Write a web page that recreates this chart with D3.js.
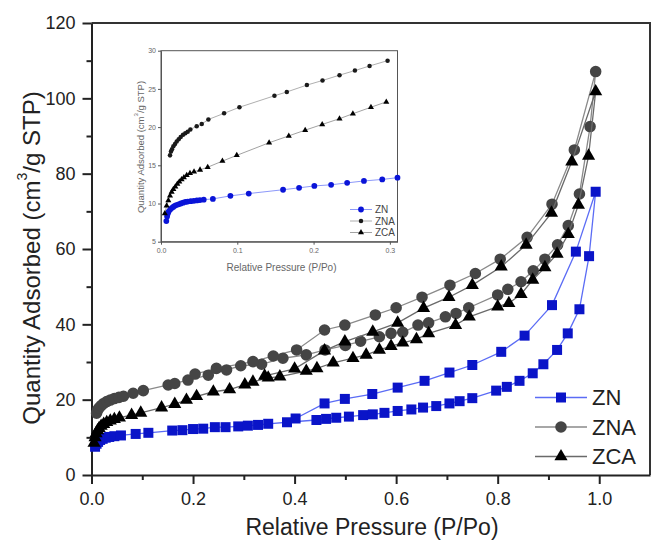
<!DOCTYPE html>
<html>
<head>
<meta charset="utf-8">
<script src="https://cdn.jsdelivr.net/npm/d3@7"></script>
<style>
  body { margin: 0; background: #fff; }
  svg { display: block; font-family: "Liberation Sans", Arial, sans-serif; }
</style>
</head>
<body>
<div id="viz"></div>
<script>
// ---- data: [P/Po, quantity adsorbed] ----
// main chart, adsorption branch then desorption branch
const znAds = [[0.007,7.5],[0.010,8.3],[0.013,8.8],[0.017,9.3],[0.022,9.6],[0.028,9.9],[0.035,10.1],[0.045,10.3],[0.058,10.5],
  [0.087,10.9],[0.112,11.2],[0.159,11.8],[0.179,11.9],[0.200,12.2],[0.220,12.3],[0.243,12.7],[0.264,12.7],[0.289,12.9],
  [0.308,13.1],[0.328,13.3],[0.348,13.6],[0.385,14.0],[0.443,14.6],[0.462,14.9],[0.482,15.2],[0.507,15.5],[0.535,15.9],
  [0.554,16.1],[0.577,16.5],[0.603,17.0],[0.630,17.4],[0.653,17.9],[0.679,18.3],[0.705,19.0],[0.725,19.6],[0.750,20.4],
  [0.797,22.4],[0.818,23.4],[0.843,25.0],[0.869,27.0],[0.890,29.4],[0.917,33.2],[0.938,37.6],[0.961,44.0],[0.980,58.1],[0.993,75.2]];
const znDes = [[0.954,59.3],[0.907,45.1],[0.853,37.0],[0.807,32.7],[0.750,29.2],[0.705,27.2],[0.656,25.0],[0.603,23.2],
  [0.553,21.5],[0.499,20.2],[0.459,19.0],[0.402,15.0]];

const znaAds = [[0.010,16.4],[0.012,17.2],[0.015,17.8],[0.019,18.4],[0.024,19.0],[0.030,19.5],[0.037,19.9],[0.045,20.3],
  [0.054,20.6],[0.063,20.9],[0.082,21.7],[0.102,22.4],[0.151,23.9],[0.164,24.3],[0.190,25.2],[0.230,26.5],[0.266,27.9],
  [0.294,29.0],[0.335,29.4],[0.377,31.0],[0.423,31.9],[0.460,33.2],[0.500,34.4],[0.530,35.5],[0.567,36.7],[0.590,37.6],
  [0.613,37.9],[0.643,39.8],[0.664,40.4],[0.697,42.0],[0.718,42.9],[0.743,44.4],[0.800,47.8],[0.820,49.3],[0.846,51.3],
  [0.870,54.2],[0.893,57.3],[0.918,61.1],[0.939,66.2],[0.961,74.6],[0.982,92.5],[0.993,107.1]];
const znaDes = [[0.951,86.3],[0.907,71.9],[0.858,63.1],[0.805,57.3],[0.756,53.5],[0.706,50.4],[0.651,47.2],[0.600,44.4],
  [0.559,42.5],[0.499,39.8],[0.459,38.5],[0.404,33.2],[0.358,31.6],[0.318,30.1],[0.246,28.3],[0.204,26.8]];

const zcaAds = [[0.005,8.5],[0.007,10.0],[0.009,11.0],[0.012,11.8],[0.015,12.4],[0.019,13.0],[0.024,13.5],[0.030,14.0],
  [0.037,14.4],[0.045,14.8],[0.055,15.2],[0.079,15.9],[0.097,16.5],[0.138,17.9],[0.164,18.8],[0.187,19.9],[0.207,20.9],
  [0.240,22.1],[0.272,22.7],[0.302,24.0],[0.318,24.7],[0.348,25.8],[0.371,26.1],[0.423,27.6],[0.444,28.3],[0.476,29.8],
  [0.515,31.0],[0.541,31.9],[0.567,33.2],[0.590,34.2],[0.613,35.1],[0.640,36.0],[0.664,37.6],[0.717,39.8],[0.744,42.0],
  [0.800,44.7],[0.822,45.6],[0.846,48.0],[0.869,51.8],[0.893,55.1],[0.917,58.7],[0.939,63.9],[0.959,71.7],[0.979,84.7],[0.993,101.8]];
const zcaDes = [[0.946,83.2],[0.906,69.6],[0.856,61.1],[0.807,55.3],[0.750,50.4],[0.704,47.2],[0.654,44.3],[0.603,40.4],
  [0.554,38.0],[0.499,35.4],[0.459,33.0],[0.400,28.2],[0.341,26.3]];

// inset (low pressure region)
const znInset = [[0.007,7.7],[0.008,8.3],[0.009,8.7],[0.010,8.95],[0.012,9.2],[0.014,9.4],[0.016,9.55],[0.018,9.7],[0.020,9.8],
  [0.023,9.9],[0.026,10.0],[0.029,10.1],[0.032,10.2],[0.035,10.25],[0.039,10.3],[0.043,10.35],[0.047,10.4],[0.051,10.45],
  [0.056,10.5],[0.068,10.6],[0.091,11.0],[0.115,11.3],[0.160,11.8],[0.181,12.05],[0.201,12.3],[0.223,12.45],[0.244,12.7],
  [0.266,12.95],[0.290,13.15],[0.310,13.38]];
const znaInset = [[0.0118,16.3],[0.0131,16.8],[0.0144,17.1],[0.0162,17.5],[0.0184,17.8],[0.0206,18.1],[0.0232,18.4],
  [0.0258,18.7],[0.0289,19.0],[0.0319,19.2],[0.0350,19.4],[0.0385,19.7],[0.0468,20.1],[0.0534,20.4],[0.0621,21.0],
  [0.0827,21.8],[0.1028,22.6],[0.1487,24.1],[0.1649,24.6],[0.1912,25.5],[0.2117,26.1],[0.2340,26.8],[0.2542,27.4],
  [0.2734,28.0],[0.2970,28.7]];
const zcaInset = [[0.005,8.7],[0.0074,9.7],[0.0096,10.4],[0.0118,11.0],[0.014,11.5],[0.0162,11.85],[0.0188,12.2],[0.0214,12.55],
  [0.024,12.85],[0.027,13.15],[0.030,13.4],[0.0337,13.7],[0.038,13.95],[0.0433,14.15],[0.0512,14.4],[0.0612,14.75],
  [0.0805,15.55],[0.0993,16.3],[0.1417,17.95],[0.1675,18.85],[0.189,19.6],[0.2113,20.35],[0.234,21.1],[0.2515,21.75],
  [0.2752,22.6],[0.2953,23.3]];

const seriesNames = ["ZN", "ZNA", "ZCA"];
const xTicks = [0, 0.2, 0.4, 0.6, 0.8, 1.0];
const yTicks = [0, 20, 40, 60, 80, 100, 120];
const insetXTicks = [0, 0.1, 0.2, 0.3];
const insetYTicks = [5, 10, 15, 20, 25, 30];

const width = 651, height = 545;

const svg = d3.select("#viz").append("svg")
  .attr("width", width).attr("height", height);
svg.append("rect").attr("width", width).attr("height", height).attr("fill", "#fff");

// ---- main chart ----
const x = d3.scaleLinear().domain([0, 1.1]).range([91.5, 650]);
const y = d3.scaleLinear().domain([0, 120]).range([475, 23]);

const styles = {
  ZN:  { line: "#5b6cf5", fill: "#0a14c8", symbol: d3.symbolSquare, size: 100 },
  ZNA: { line: "#8a8a8a", fill: "#454545", symbol: d3.symbolCircle, size: 105 },
  ZCA: { line: "#6a6a6a", fill: "#000000", symbol: d3.symbolTriangle, size: 75 }
};

const axisColor = "#222";
const tickFont = 18;

// frame (top + right)
svg.append("path")
  .attr("d", `M${x(0)},${y(120)} H${x(1.1)} V${y(0)}`)
  .attr("fill", "none").attr("stroke", "#333").attr("stroke-width", 2);

svg.append("g").attr("transform", `translate(0,${y(0)})`)
  .call(d3.axisBottom(x).tickValues(xTicks).tickFormat(d3.format(".1f")).tickSize(9).tickPadding(8).tickSizeOuter(0));
svg.append("g").attr("transform", `translate(0,${y(0)})`)
  .call(d3.axisBottom(x).tickValues([0.1, 0.3, 0.5, 0.7, 0.9]).tickFormat("").tickSize(5).tickSizeOuter(0))
  .select(".domain").remove();
svg.append("g").attr("transform", `translate(${x(0)},0)`)
  .call(d3.axisLeft(y).tickValues(yTicks).tickSize(9).tickPadding(7).tickSizeOuter(0));
svg.append("g").attr("transform", `translate(${x(0)},0)`)
  .call(d3.axisLeft(y).tickValues([10, 30, 50, 70, 90, 110]).tickFormat("").tickSize(5).tickSizeOuter(0))
  .select(".domain").remove();

svg.selectAll(".domain").attr("stroke", "#222").attr("stroke-width", 2);
svg.selectAll(".tick line").attr("stroke", "#222").attr("stroke-width", 2);
svg.selectAll(".tick text").attr("font-size", tickFont).attr("fill", axisColor)
  .attr("font-family", "Liberation Sans, Arial, sans-serif");

svg.append("text")
  .attr("x", 372).attr("y", 535)
  .attr("text-anchor", "middle").attr("font-size", 23).attr("fill", axisColor)
  .text("Relative Pressure (P/Po)");

const yTitle = svg.append("text")
  .attr("transform", "translate(31,258) rotate(-90)")
  .attr("text-anchor", "middle").attr("dominant-baseline", "central")
  .attr("font-size", 24).attr("fill", axisColor);
yTitle.append("tspan").text("Quantity Adsorbed (cm");
yTitle.append("tspan").attr("font-size", 14).attr("dy", -9).text("3");
yTitle.append("tspan").attr("dy", 9).text("/g STP)");

const line = d3.line().x(d => x(d[0])).y(d => y(d[1]));

const mainSeries = [
  { name: "ZN", pts: znAds.concat(znDes) },
  { name: "ZNA", pts: znaAds.concat(znaDes) },
  { name: "ZCA", pts: zcaAds.concat(zcaDes) }
];

mainSeries.forEach(s => {
  const st = styles[s.name];
  svg.append("path").attr("d", line(s.pts))
    .attr("fill", "none").attr("stroke", st.line).attr("stroke-width", 1.3);
  svg.append("g").selectAll("path").data(s.pts).join("path")
    .attr("transform", d => `translate(${x(d[0])},${y(d[1])})`)
    .attr("d", d3.symbol(st.symbol, st.size))
    .attr("fill", st.fill);
});

// main legend
const legend = svg.append("g");
seriesNames.forEach((name, i) => {
  const st = styles[name];
  const ly = 397.5 + i * 29.5;
  legend.append("line").attr("x1", 535).attr("x2", 587).attr("y1", ly).attr("y2", ly)
    .attr("stroke", st.line).attr("stroke-width", 1.5);
  legend.append("path").attr("transform", `translate(561,${ly})`)
    .attr("d", d3.symbol(st.symbol, st.size)).attr("fill", st.fill);
  legend.append("text").attr("x", 592).attr("y", ly).attr("dy", "0.36em")
    .attr("font-size", 22).attr("fill", axisColor).text(name);
});

// ---- inset ----
const ix = d3.scaleLinear().domain([0, 0.31]).range([161, 397.5]);
const iy = d3.scaleLinear().domain([5, 30]).range([241.7, 50.7]);
const inset = svg.append("g");
const insetGray = "#666";

inset.append("rect")
  .attr("x", ix(0)).attr("y", iy(30)).attr("width", ix(0.31) - ix(0)).attr("height", iy(5) - iy(30))
  .attr("fill", "#fff").attr("stroke", "#555").attr("stroke-width", 1);

inset.append("g").attr("transform", `translate(0,${iy(5)})`)
  .call(d3.axisBottom(ix).tickValues(insetXTicks).tickFormat(d3.format(".1f")).tickSize(3).tickPadding(3).tickSizeOuter(0));
inset.append("g").attr("transform", `translate(${ix(0)},0)`)
  .call(d3.axisLeft(iy).tickValues(insetYTicks).tickFormat(d3.format("d")).tickSize(3).tickPadding(2).tickSizeOuter(0));
inset.selectAll(".domain").attr("stroke", "#555").attr("stroke-width", 1);
inset.selectAll(".tick line").attr("stroke", "#555").attr("stroke-width", 1);
inset.selectAll(".tick text").attr("font-size", 7).attr("fill", insetGray);

inset.append("text")
  .attr("x", 281.5).attr("y", 270.5)
  .attr("text-anchor", "middle").attr("font-size", 10).attr("fill", insetGray)
  .text("Relative Pressure (P/Po)");

const iyTitle = inset.append("text")
  .attr("transform", "translate(139.5,147) rotate(-90)")
  .attr("text-anchor", "middle").attr("dominant-baseline", "central")
  .attr("font-size", 9.5).attr("fill", insetGray);
iyTitle.append("tspan").text("Quantity Adsorbed (cm");
iyTitle.append("tspan").attr("font-size", 6).attr("dy", -3.5).text("3");
iyTitle.append("tspan").attr("dy", 3.5).text("/g STP)");

const insetStyles = {
  ZN:  { line: "#6f7df7", fill: "#0a14d8", symbol: d3.symbolCircle, size: 26 },
  ZNA: { line: "#9a9a9a", fill: "#1a1a1a", symbol: d3.symbolCircle, size: 16 },
  ZCA: { line: "#8a8a8a", fill: "#000", symbol: d3.symbolTriangle, size: 16 }
};
const iline = d3.line().x(d => ix(d[0])).y(d => iy(d[1]));
const insetSeries = [
  { name: "ZN", pts: znInset },
  { name: "ZNA", pts: znaInset },
  { name: "ZCA", pts: zcaInset }
];
insetSeries.forEach(s => {
  const st = insetStyles[s.name];
  inset.append("path").attr("d", iline(s.pts))
    .attr("fill", "none").attr("stroke", st.line).attr("stroke-width", 0.8);
  inset.append("g").selectAll("path").data(s.pts).join("path")
    .attr("transform", d => `translate(${ix(d[0])},${iy(d[1])})`)
    .attr("d", d3.symbol(st.symbol, st.size))
    .attr("fill", st.fill);
});

seriesNames.forEach((name, i) => {
  const st = insetStyles[name];
  const ly = 209.5 + i * 11.5;
  inset.append("line").attr("x1", 350).attr("x2", 372).attr("y1", ly).attr("y2", ly)
    .attr("stroke", st.line).attr("stroke-width", 0.8);
  inset.append("path").attr("transform", `translate(361,${ly})`)
    .attr("d", d3.symbol(st.symbol, st.size)).attr("fill", st.fill);
  inset.append("text").attr("x", 375).attr("y", ly).attr("dy", "0.36em")
    .attr("font-size", 10).attr("fill", "#444").text(name);
});
</script>
</body>
</html>
